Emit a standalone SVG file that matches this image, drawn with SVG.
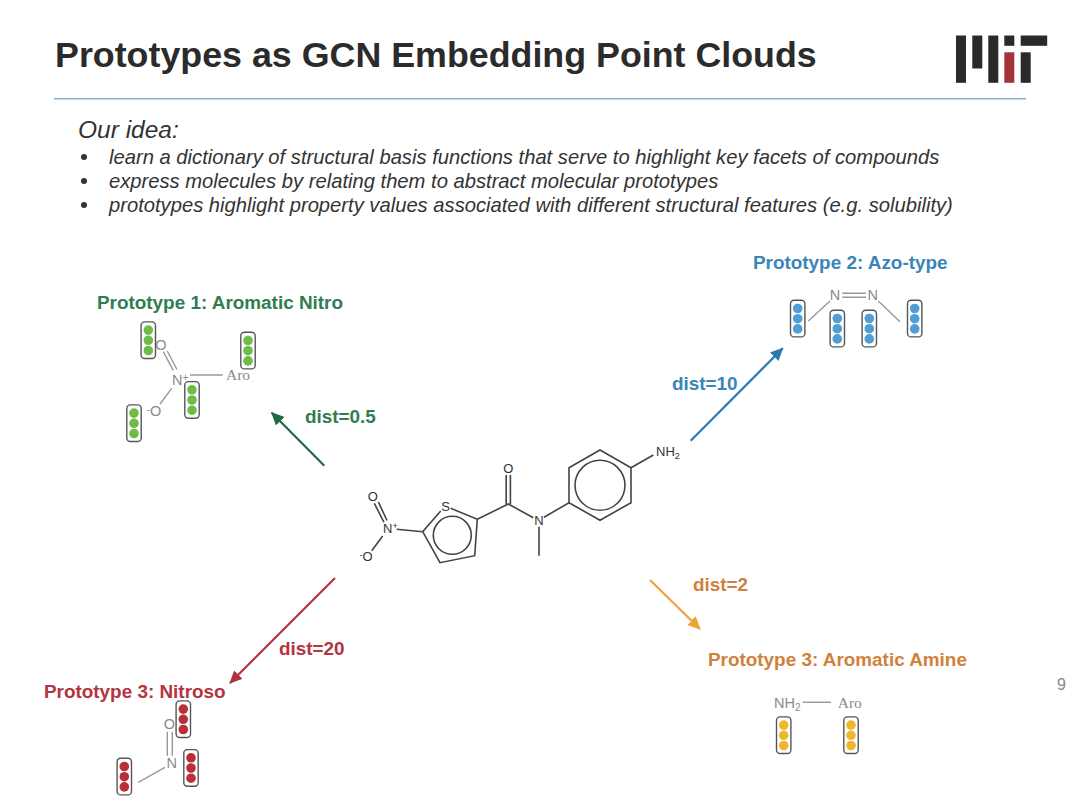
<svg xmlns="http://www.w3.org/2000/svg" width="1080" height="809" viewBox="0 0 1080 809">
<style>
text{font-family:"Liberation Sans",Arial,sans-serif}
.title{font-size:35.8px;font-weight:bold;fill:#2b2b2b}
.idea{font-size:24.5px;font-style:italic;fill:#333}
.body{font-size:20.2px;font-style:italic;fill:#333}
.lab{font-size:18.9px;font-weight:bold}
.bond{stroke:#444;stroke-width:1.6;fill:none}
.gbond{stroke:#999;stroke-width:1.4;fill:none}
.atom{font-size:13px;fill:#333}
.gatom{font-size:14.5px;fill:#8a8a8a}
.aro{font-family:"Liberation Serif",serif;font-size:15.5px;fill:#8a8a8a}
.pod{fill:#fff;stroke:#555;stroke-width:1.4}
.green{fill:#2f7d52}.blue{fill:#3a85b8}.red{fill:#b4343f}.orange{fill:#d0813c}
.dg{fill:#6fbb48}.db{fill:#4f9ed6}.dr{fill:#b92f37}.dy{fill:#f0b62e}
.arr{fill:none;stroke-width:2.2}
</style>
<defs>
<marker id="mg" markerUnits="userSpaceOnUse" markerWidth="14" markerHeight="12" refX="12" refY="6" orient="auto"><path d="M0 0L13 6L0 12z" fill="#1f6b45"/></marker>
<marker id="mb" markerUnits="userSpaceOnUse" markerWidth="14" markerHeight="12" refX="12" refY="6" orient="auto"><path d="M0 0L13 6L0 12z" fill="#2b7bb5"/></marker>
<marker id="mr" markerUnits="userSpaceOnUse" markerWidth="14" markerHeight="12" refX="12" refY="6" orient="auto"><path d="M0 0L13 6L0 12z" fill="#b0333c"/></marker>
<marker id="my" markerUnits="userSpaceOnUse" markerWidth="14" markerHeight="12" refX="12" refY="6" orient="auto"><path d="M0 0L13 6L0 12z" fill="#eea238"/></marker>
<g id="podg"><rect x="-7.2" y="-18.4" width="14.4" height="36.6" rx="3.5" class="pod"/><circle cy="-10.2" r="4.8" class="dg"/><circle r="4.8" class="dg"/><circle cy="10.2" r="4.8" class="dg"/></g>
<g id="podb"><rect x="-7.2" y="-18.4" width="14.4" height="36.6" rx="3.5" class="pod"/><circle cy="-10.2" r="4.8" class="db"/><circle r="4.8" class="db"/><circle cy="10.2" r="4.8" class="db"/></g>
<g id="podr"><rect x="-7.2" y="-18.4" width="14.4" height="36.6" rx="3.5" class="pod"/><circle cy="-10.2" r="4.8" class="dr"/><circle r="4.8" class="dr"/><circle cy="10.2" r="4.8" class="dr"/></g>
<g id="pody"><rect x="-7.2" y="-18.4" width="14.4" height="36.6" rx="3.5" class="pod"/><circle cy="-10.2" r="4.8" class="dy"/><circle r="4.8" class="dy"/><circle cy="10.2" r="4.8" class="dy"/></g>
</defs>
<rect width="1080" height="809" fill="#fff"/>

<g id="header">
<text x="55" y="67" class="title">Prototypes as GCN Embedding Point Clouds</text>
<line x1="54" y1="98.7" x2="1026" y2="98.7" stroke="#8fb0d8" stroke-width="1.5"/>
<g id="mit-logo" fill="#2a2a2a">
<rect x="956" y="35.5" width="10" height="47.3"/>
<rect x="972.3" y="35.5" width="10" height="33"/>
<rect x="988.3" y="35.5" width="10" height="47.3"/>
<rect x="1004.3" y="35.5" width="10" height="10.3"/>
<rect x="1004.3" y="52.3" width="10" height="30.5" fill="#a33338"/>
<rect x="1020.7" y="35.5" width="26.5" height="10.3"/>
<rect x="1020.7" y="52.3" width="10" height="30.5"/>
</g>
</g>

<g id="idea">
<text x="78" y="138" class="idea">Our idea:</text>
<circle cx="84" cy="157" r="3" fill="#333"/>
<text x="109" y="164" class="body">learn a dictionary of structural basis functions that serve to highlight key facets of compounds</text>
<circle cx="84" cy="181" r="3" fill="#333"/>
<text x="109" y="188" class="body">express molecules by relating them to abstract molecular prototypes</text>
<circle cx="84" cy="205" r="3" fill="#333"/>
<text x="109" y="212" class="body">prototypes highlight property values associated with different structural features (e.g. solubility)</text>
</g>

<g id="connectors">
<line x1="324.3" y1="465.7" x2="271.7" y2="412.7" class="arr" stroke="#1f6b45" marker-end="url(#mg)"/>
<line x1="690.7" y1="440.7" x2="782.7" y2="348.3" class="arr" stroke="#2b7bb5" marker-end="url(#mb)"/>
<line x1="335" y1="578" x2="230" y2="683" class="arr" stroke="#b0333c" marker-end="url(#mr)"/>
<line x1="650" y1="580" x2="700" y2="629" class="arr" stroke="#eea238" marker-end="url(#my)"/>
</g>

<g id="edge-labels">
<text x="305" y="423" class="lab green">dist=0.5</text>
<text x="672" y="390" class="lab blue">dist=10</text>
<text x="279" y="655" class="lab red">dist=20</text>
<text x="693" y="591" class="lab orange">dist=2</text>
</g>

<g id="central-molecule">
<path class="bond" d="M600 450L631 467.7V502.7L600 520.3L569 502.7V467.7Z"/>
<circle cx="600" cy="485.3" r="25" class="bond"/>
<path class="bond" d="M631 467.7L653.3 455M544 517.3L569 502.7M539 526.7V555.7M533.3 517.7L508.3 504L477.3 519.3M506.2 504V475M510.4 504V475"/>
<path class="bond" d="M450.7 508.3L477.3 519.3L474.7 555.7L440 562.7L422.7 531.7L440.7 511"/>
<circle cx="452.3" cy="535.3" r="19" class="bond"/>
<path class="bond" d="M396.7 529.3L422.7 531.7M382.7 536L371.7 550.7M374.3 503.3L384 522.3M378.4 502L387 520.5"/>
<text x="656" y="456" class="atom">NH<tspan font-size="9" dy="3">2</tspan></text>
<text x="508.3" y="473" class="atom" text-anchor="middle">O</text>
<text x="539" y="525" class="atom" text-anchor="middle">N</text>
<text x="445.7" y="510.5" class="atom" text-anchor="middle">S</text>
<text x="383" y="533" class="atom">N<tspan font-size="9" dy="-4">+</tspan></text>
<text x="372.7" y="501" class="atom" text-anchor="middle">O</text>
<text x="366" y="561" class="atom" text-anchor="middle"><tspan font-size="9" dy="-3">-</tspan><tspan dy="3">O</tspan></text>
</g>

<g id="prototype-1">
<text x="97" y="309" class="lab green">Prototype 1: Aromatic Nitro</text>
<path class="gbond" d="M163.3 351.7L173.3 370.7M167.3 351L177 369.5M190 375H222.7M171.7 388.3L160 404"/>
<text x="161" y="349.5" class="gatom" text-anchor="middle">O</text>
<text x="172" y="385" class="gatom">N<tspan font-size="10" dy="-4">+</tspan></text>
<text x="226" y="380" class="aro">Aro</text>
<text x="154" y="416" class="gatom" text-anchor="middle"><tspan font-size="10" dy="-3">-</tspan><tspan dy="3">O</tspan></text>
<use href="#podg" x="148.3" y="340.3"/>
<use href="#podg" x="248" y="350.7"/>
<use href="#podg" x="192" y="400"/>
<use href="#podg" x="134" y="423.3"/>
</g>

<g id="prototype-2">
<text x="753" y="269" class="lab blue">Prototype 2: Azo-type</text>
<path class="gbond" d="M842.3 293.3H866M842.3 297.3H866M808.3 321L830 301M878.3 301L900 321.7"/>
<text x="835" y="300" class="gatom" text-anchor="middle">N</text>
<text x="872.7" y="300" class="gatom" text-anchor="middle">N</text>
<use href="#podb" x="797.7" y="318.7"/>
<use href="#podb" x="837.3" y="328.7"/>
<use href="#podb" x="869.3" y="328.7"/>
<use href="#podb" x="914.7" y="318.7"/>
</g>

<g id="prototype-3-nitroso">
<text x="44" y="698" class="lab red">Prototype 3: Nitroso</text>
<path class="gbond" d="M167.3 731.7V755.7M172.3 731.7V755.7M138.3 782.3L165 767.3"/>
<text x="169.3" y="728.5" class="gatom" text-anchor="middle">O</text>
<text x="171.7" y="768" class="gatom" text-anchor="middle">N</text>
<use href="#podr" x="183.3" y="719.3"/>
<use href="#podr" x="191" y="768"/>
<use href="#podr" x="124.3" y="776.7"/>
</g>

<g id="prototype-3-amine">
<text x="708" y="666" class="lab orange">Prototype 3: Aromatic Amine</text>
<path class="gbond" d="M802.7 702.3H831"/>
<text x="774" y="708" class="gatom">NH<tspan font-size="10" dy="3">2</tspan></text>
<text x="837.7" y="708" class="aro">Aro</text>
<use href="#pody" x="783.7" y="735.3"/>
<use href="#pody" x="851" y="735.3"/>
</g>

<text id="page-number" x="1057" y="690" font-size="16" fill="#888">9</text>
</svg>
